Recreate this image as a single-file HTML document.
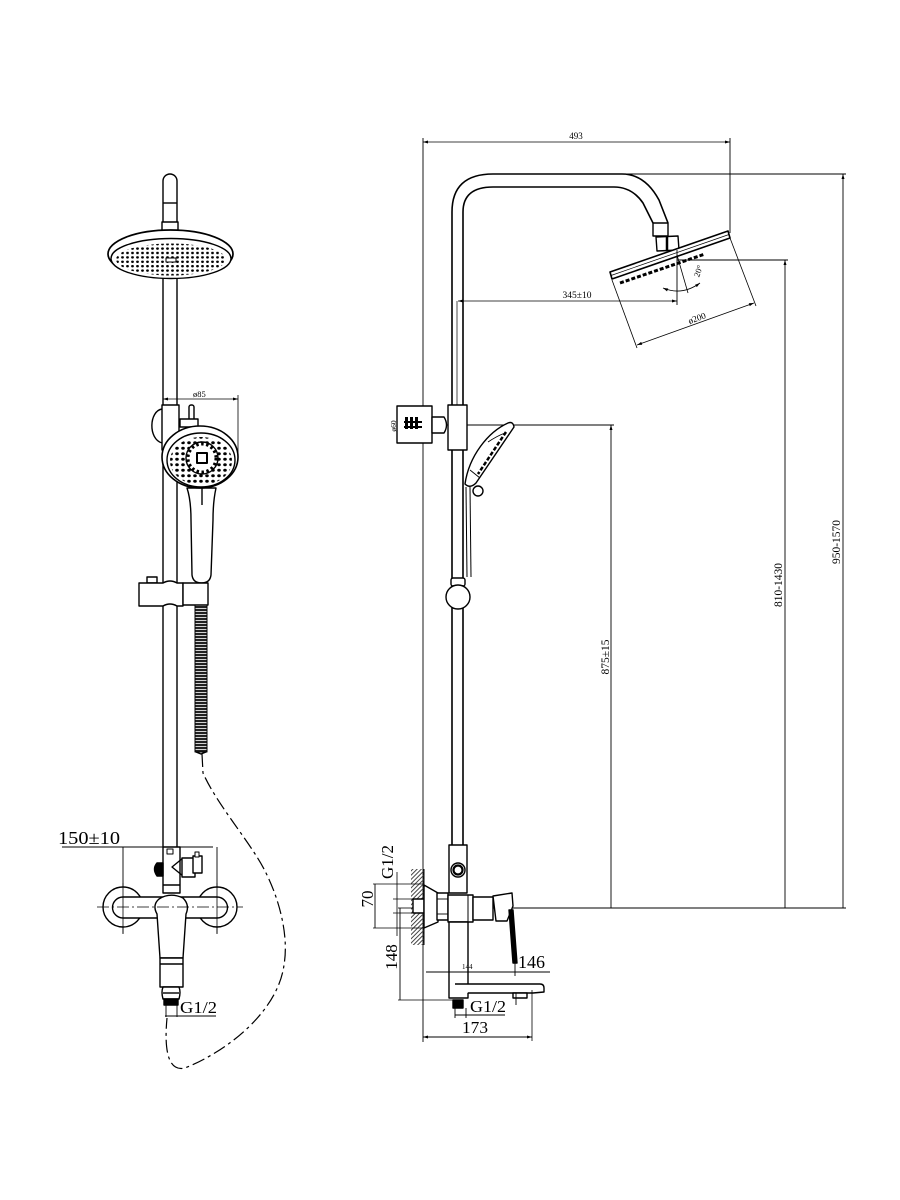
<!DOCTYPE html>
<html>
<head>
<meta charset="utf-8">
<style>
html,body{margin:0;padding:0;background:#fff;}
svg{display:block;}
text{font-family:"Liberation Serif",serif;fill:#000;}
</style>
</head>
<body>
<svg width="900" height="1200" viewBox="0 0 900 1200" xmlns="http://www.w3.org/2000/svg">
<defs>
  <marker id="ar" viewBox="0 0 10 10" refX="10" refY="5" markerWidth="7" markerHeight="5" orient="auto-start-reverse" markerUnits="userSpaceOnUse">
    <path d="M0,2 L10,5 L0,8 z" fill="#000"/>
  </marker>
  <pattern id="dots" width="5" height="4.4" patternUnits="userSpaceOnUse">
    <ellipse cx="2.5" cy="2.2" rx="1.4" ry="1.2" fill="#000"/>
  </pattern>
  <pattern id="hd" width="6" height="5.5" patternUnits="userSpaceOnUse">
    <ellipse cx="3" cy="2.7" rx="1.8" ry="1.5" fill="#000"/>
  </pattern>
  <pattern id="coil" width="4" height="3" patternUnits="userSpaceOnUse">
    <rect x="0" y="0" width="4" height="2.2" fill="#222"/>
  </pattern>
  <pattern id="hatch" width="3" height="3" patternUnits="userSpaceOnUse" patternTransform="rotate(45)">
    <rect width="1" height="3" fill="#444"/>
  </pattern>
  <clipPath id="faceclip"><ellipse cx="171" cy="259.5" rx="55" ry="16"/></clipPath>
  <clipPath id="hclip"><ellipse cx="201" cy="461" rx="31" ry="24"/></clipPath>
</defs>

<g fill="none" stroke="#000" stroke-width="1.4" stroke-linejoin="round">
<!-- ================= LEFT VIEW ================= -->
<path d="M163,232 L163,181 A7,7 0 0 1 177,181 L177,232" fill="#fff"/>
<line x1="163" y1="203" x2="177" y2="203"/>
<rect x="162" y="222" width="16" height="9" fill="#fff"/>

<line x1="163" y1="276" x2="163" y2="847"/>
<line x1="177" y1="276" x2="177" y2="847"/>

<ellipse cx="170.5" cy="254" rx="62.5" ry="24" fill="#fff" stroke-width="1.7"/>
<ellipse cx="171" cy="258.5" rx="60" ry="20" fill="#fff"/>
<rect x="110" y="238" width="122" height="42" fill="url(#dots)" stroke="none" clip-path="url(#faceclip)"/>
<rect x="166" y="258" width="10" height="4" fill="#fff" stroke-width="1"/>

<path d="M162,409 C149,411 148,439 162,443" fill="#fff"/>
<rect x="162" y="405" width="17" height="45" fill="#fff"/>
<rect x="189" y="405" width="5" height="17" rx="2" fill="#fff"/>
<rect x="180" y="419" width="18" height="8" fill="#fff"/>

<path d="M187,488 C190,497 191,510 191,520 L192,575 Q193,583 201.5,583 Q210,583 211,575 L213,520 C213,507 214,497 216,488 Z" fill="#fff"/>
<line x1="202" y1="488" x2="202" y2="505"/>
<ellipse cx="200" cy="457" rx="38" ry="31" fill="#fff" stroke-width="1.6"/>
<ellipse cx="201" cy="460" rx="34" ry="27" fill="#fff"/>
<rect x="165" y="434" width="72" height="55" fill="url(#hd)" stroke="none" clip-path="url(#hclip)"/>
<circle cx="202" cy="458" r="16" fill="#fff"/>
<circle cx="202" cy="458" r="14" fill="none" stroke-width="3" stroke-dasharray="2.5,2.5"/>
<rect x="197" y="453" width="10" height="10" fill="#fff" stroke-width="2"/>

<rect x="147" y="577" width="10" height="6" fill="#fff"/>
<path d="M139,583 L163,583 Q170,579 177,583 L183,583 L183,606 L177,606 Q170,602 163,606 L139,606 Z" fill="#fff"/>
<rect x="183" y="583" width="25" height="22" fill="#fff"/>

<rect x="195" y="605" width="12" height="147" fill="url(#coil)" stroke="#000" stroke-width="1"/>
<path d="M196,752 L201,754 L206,752" fill="none"/>
<path d="M202,754 L203,773 C215,800 240,830 257,857 C275,885 290,930 284,965 C278,1010 230,1050 185,1068 C168,1072 164,1050 167,1018" stroke-width="1.2" stroke-dasharray="13,4,3,4"/>

<line x1="62" y1="847" x2="213" y2="847" stroke-width="0.9"/>
<line x1="123" y1="847" x2="123" y2="934" stroke-width="0.9"/>
<line x1="217" y1="847" x2="217" y2="934" stroke-width="0.9"/>

<rect x="163" y="847" width="17" height="46" fill="#fff"/>
<rect x="167" y="849" width="6" height="5" fill="#fff" stroke-width="1"/>
<path d="M163,863 L157,863 Q152,869 157,876 L163,876 Z" fill="#000"/>
<path d="M183,858 L172,867 L183,876"/>
<rect x="182" y="858" width="13" height="19" fill="#fff"/>
<rect x="193" y="856" width="9" height="17" fill="#fff"/>
<rect x="195" y="852" width="4" height="5" fill="#fff" stroke-width="1"/>
<line x1="163" y1="885" x2="180" y2="885"/>

<circle cx="123" cy="907" r="20" fill="#fff"/>
<circle cx="217" cy="907" r="20" fill="#fff"/>
<path d="M123,897 L217,897 A10.5,10.5 0 0 1 217,918 L123,918 A10.5,10.5 0 0 1 123,897 Z" fill="#fff"/>

<path d="M159,899 Q170,892 183,898 Q190,905 186,914 L183,958 L160,958 L157,914 Q152,905 159,899 Z" fill="#fff"/>
<rect x="160" y="958" width="23" height="29" fill="#fff"/>
<line x1="160" y1="964" x2="183" y2="964"/>
<path d="M163,987 Q161,992 163,999 L179,999 Q181,992 179,987 Z" fill="#fff"/>
<line x1="163" y1="993" x2="179" y2="993"/>
<rect x="164" y="999" width="14" height="6" fill="#000"/>
<line x1="166" y1="1005" x2="166" y2="1017" stroke-width="0.9"/>
<line x1="177" y1="1005" x2="177" y2="1017" stroke-width="0.9"/>
<line x1="165" y1="1016" x2="216" y2="1016" stroke-width="0.9"/>

<line x1="97" y1="907" x2="243" y2="907" stroke-width="0.8" stroke-dasharray="12,3,2,3"/>
<line x1="123" y1="883" x2="123" y2="933" stroke-width="0.8"/>
<line x1="217" y1="883" x2="217" y2="933" stroke-width="0.8"/>

<line x1="163" y1="399" x2="238" y2="399" stroke-width="0.8" marker-start="url(#ar)" marker-end="url(#ar)"/>
<line x1="238" y1="395" x2="238" y2="455" stroke-width="0.8"/>
<line x1="163" y1="395" x2="163" y2="405" stroke-width="0.8"/>

<!-- ================= RIGHT VIEW ================= -->
<line x1="423" y1="138" x2="423" y2="1042" stroke-width="0.9"/>
<line x1="730" y1="138" x2="730" y2="233" stroke-width="0.9"/>
<line x1="423" y1="142" x2="730" y2="142" stroke-width="0.8" marker-start="url(#ar)" marker-end="url(#ar)"/>

<path d="M452,893 L452,212 Q452,174 493,174 L622,174 Q645,174 659,200 L668,223" stroke-width="1.6"/>
<path d="M463,893 L463,212 Q463,187 493,187 L614,187 Q632,187 643,203 L653,223" stroke-width="1.6"/>
<line x1="457" y1="301" x2="457" y2="405" stroke-width="0.7"/>
<line x1="622" y1="174" x2="846" y2="174" stroke-width="0.9"/>

<rect x="653" y="223" width="15" height="13" fill="#fff"/>
<path d="M656,237 L678,236 L679,250 L657,251 Z" fill="#fff"/>
<line x1="667" y1="237" x2="667" y2="251" stroke-width="2.5"/>

<path d="M610,272 L728,231 L730,238 L612,279 Z" fill="#fff" stroke-width="1.6"/>
<line x1="611" y1="275.5" x2="729" y2="234.5" stroke-width="0.7"/>
<line x1="620" y1="283" x2="705" y2="254" stroke-width="3" stroke-dasharray="4,2"/>

<line x1="612" y1="280" x2="637" y2="348" stroke-width="0.8"/>
<line x1="730" y1="238" x2="756" y2="306" stroke-width="0.8"/>
<line x1="637" y1="345" x2="754" y2="303" stroke-width="0.8" marker-start="url(#ar)" marker-end="url(#ar)"/>

<line x1="677" y1="250" x2="677" y2="305" stroke-width="0.9"/>
<line x1="677" y1="255" x2="688" y2="293" stroke-width="0.8"/>
<path d="M663,288 Q682,296 700,283" stroke-width="0.8" marker-start="url(#ar)" marker-end="url(#ar)"/>

<line x1="458" y1="301" x2="677" y2="301" stroke-width="0.8" marker-start="url(#ar)" marker-end="url(#ar)"/>

<line x1="677" y1="260" x2="788" y2="260" stroke-width="0.9"/>
<line x1="785" y1="908" x2="785" y2="260" stroke-width="0.9" marker-end="url(#ar)"/>
<line x1="843" y1="908" x2="843" y2="174" stroke-width="0.9" marker-end="url(#ar)"/>
<line x1="445" y1="425" x2="614" y2="425" stroke-width="0.9"/>
<line x1="611" y1="908" x2="611" y2="425" stroke-width="0.9" marker-end="url(#ar)"/>
<line x1="490" y1="908" x2="846" y2="908" stroke-width="1"/>

<rect x="397" y="406" width="35" height="37" fill="#fff"/>
<path d="M432,417 L444,417 Q449,425 444,433 L432,433 Z" fill="#fff"/>
<rect x="448" y="405" width="19" height="45" fill="#fff"/>
<g stroke="none" fill="#000">
  <rect x="405" y="417" width="3" height="12"/>
  <rect x="410" y="417" width="3" height="12"/>
  <rect x="415" y="417" width="3" height="12"/>
  <rect x="404" y="421" width="18" height="2"/>
  <rect x="404" y="426" width="18" height="2"/>
</g>

<path d="M508,423 Q513,421 514,427 L476,483 Q470,489 465,484 C469,456 488,432 508,423 Z" fill="#fff"/>
<line x1="506" y1="432" x2="478" y2="474" stroke-width="2.5" stroke-dasharray="4,2"/>
<path d="M488,442 Q497,436 505,433" stroke-width="0.9"/>
<line x1="470" y1="470" x2="480" y2="478" stroke-width="0.9"/>
<circle cx="478" cy="491" r="5" fill="#fff"/>
<line x1="466" y1="487" x2="467" y2="577" stroke-width="1"/>
<line x1="470" y1="487" x2="471" y2="577" stroke-width="1"/>

<rect x="451" y="578" width="14" height="8" rx="2" fill="#fff"/>
<circle cx="458" cy="597" r="12" fill="#fff"/>

<rect x="449" y="845" width="18" height="48" fill="#fff"/>
<circle cx="458" cy="870" r="7" fill="#fff"/>
<circle cx="458" cy="870" r="4.5" fill="#fff" stroke-width="2.2"/>

<rect x="411" y="869" width="13" height="76" fill="url(#hatch)" stroke="none"/>
<line x1="424" y1="869" x2="424" y2="945" stroke-width="1"/>
<rect x="413" y="899" width="11" height="14" fill="#fff"/>
<path d="M424,885 L438,893 L438,922 L424,928 Z" fill="#fff"/>
<rect x="437" y="893" width="11" height="27" fill="#fff"/>
<line x1="437" y1="899" x2="448" y2="899" stroke-width="0.9"/>
<line x1="437" y1="914" x2="448" y2="914" stroke-width="0.9"/>
<rect x="448" y="895" width="25" height="27" fill="#fff"/>
<line x1="468" y1="895" x2="468" y2="922" stroke-width="1"/>
<rect x="473" y="897" width="20" height="23" fill="#fff"/>
<path d="M493,896 L512,893 L513,906 L507,921 L496,921 Z" fill="#fff"/>
<path d="M509,910 L513,910 L517,963 L513,963 Z" fill="#000"/>

<rect x="449" y="922" width="19" height="76" fill="#fff"/>
<path d="M455,984 L540,984 Q544,984 544,988 L544,992 L533,993 L468,993" fill="#fff"/>
<rect x="513" y="993" width="14" height="5" fill="#fff"/>
<line x1="516" y1="993" x2="516" y2="1005" stroke-width="0.9"/>
<rect x="453" y="1000" width="10" height="8" fill="#000"/>
<line x1="455" y1="1008" x2="455" y2="1018" stroke-width="0.9"/>
<line x1="466" y1="1008" x2="466" y2="1018" stroke-width="0.9"/>
<line x1="455" y1="1015" x2="505" y2="1015" stroke-width="0.9"/>

<line x1="373" y1="884" x2="424" y2="884" stroke-width="0.8"/>
<line x1="373" y1="928" x2="424" y2="928" stroke-width="0.8"/>
<line x1="375" y1="884" x2="375" y2="928" stroke-width="0.9"/>
<line x1="397" y1="872" x2="397" y2="936" stroke-width="0.8"/>
<line x1="393" y1="899" x2="413" y2="899" stroke-width="0.8"/>
<line x1="393" y1="913" x2="413" y2="913" stroke-width="0.8"/>
<line x1="398" y1="908" x2="413" y2="908" stroke-width="0.8"/>
<line x1="398" y1="1000" x2="453" y2="1000" stroke-width="0.8"/>
<line x1="400" y1="908" x2="400" y2="1000" stroke-width="0.9"/>
<line x1="426" y1="972" x2="550" y2="972" stroke-width="0.9"/>
<line x1="515" y1="962" x2="515" y2="976" stroke-width="0.9"/>
<line x1="532" y1="990" x2="532" y2="1041" stroke-width="0.8"/>
<line x1="423" y1="1037" x2="532" y2="1037" stroke-width="0.9" marker-start="url(#ar)" marker-end="url(#ar)"/>
</g>

<text x="58" y="844" font-size="18" textLength="62" lengthAdjust="spacingAndGlyphs">150±10</text>
<text x="180" y="1013" font-size="17" textLength="37" lengthAdjust="spacingAndGlyphs">G1/2</text>
<text x="193" y="397" font-size="8.5">ø85</text>

<text x="576" y="139" font-size="9" text-anchor="middle">493</text>
<text x="577" y="298" font-size="9.5" text-anchor="middle">345±10</text>
<text x="698" y="321" font-size="9" text-anchor="middle" transform="rotate(-20 698 321)">ø200</text>
<text x="701" y="272" font-size="8.5" text-anchor="middle" transform="rotate(-70 701 272)">20°</text>
<text x="396" y="426" font-size="7.5" text-anchor="middle" transform="rotate(-90 396 426)">ø60</text>

<text x="609" y="657" font-size="11.5" text-anchor="middle" transform="rotate(-90 609 657)">875±15</text>
<text x="782" y="585" font-size="11.5" text-anchor="middle" transform="rotate(-90 782 585)">810-1430</text>
<text x="840" y="542" font-size="11.5" text-anchor="middle" transform="rotate(-90 840 542)">950-1570</text>

<text x="393" y="862" font-size="17" text-anchor="middle" transform="rotate(-90 393 862)">G1/2</text>
<text x="373" y="899" font-size="17" text-anchor="middle" transform="rotate(-90 373 899)">70</text>
<text x="397" y="957" font-size="17" text-anchor="middle" transform="rotate(-90 397 957)">148</text>
<text x="518" y="968" font-size="18" textLength="27" lengthAdjust="spacingAndGlyphs">146</text>
<text x="462" y="969" font-size="7">144</text>
<text x="470" y="1012" font-size="17" textLength="36" lengthAdjust="spacingAndGlyphs">G1/2</text>
<text x="462" y="1033" font-size="17" textLength="26" lengthAdjust="spacingAndGlyphs">173</text>
</svg>
</body>
</html>
